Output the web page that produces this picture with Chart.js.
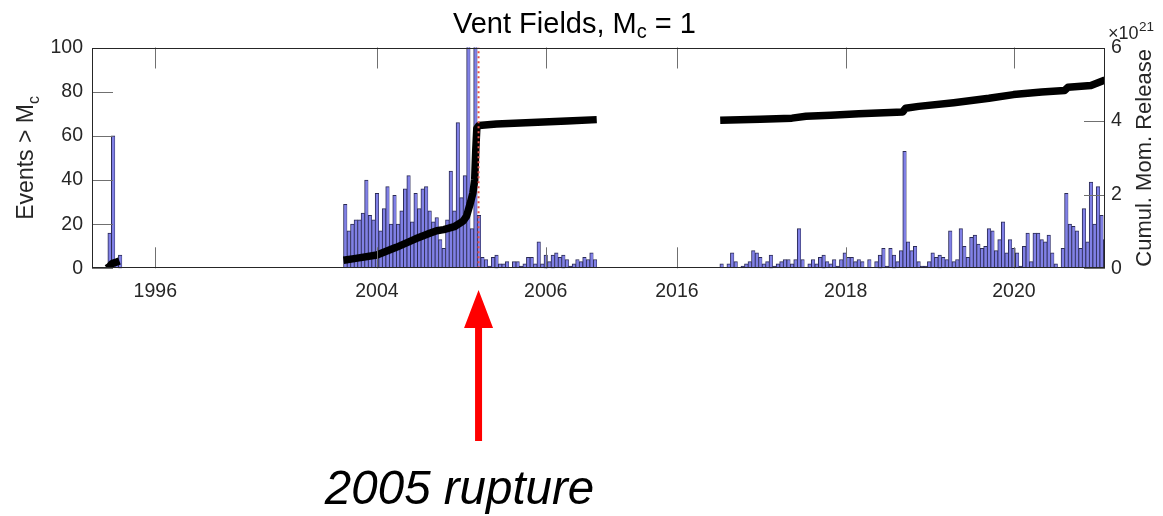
<!DOCTYPE html>
<html>
<head>
<meta charset="utf-8">
<style>
  html, body { margin: 0; padding: 0; background: #ffffff; }
  #wrap { width: 1163px; height: 516px; position: relative; }
</style>
<script src="https://cdn.jsdelivr.net/npm/chart.js@4.4.1/dist/chart.umd.min.js"></script>
</head>
<body>
<div id="wrap"><canvas id="c" width="1163" height="516"></canvas></div>
<script>
// ---------- data (x unit = half-month bin on the compressed time axis) ----------
const tickValues = [18, 81, 129, 166.3, 214.3, 262.1];
const tickLabels = ['1996', '2004', '2006', '2016', '2018', '2020'];

const countsAStart = 5;
const countsA = [16, 60, 2, 6];

const countsBStart = 72;
const countsB = [29, 17, 20, 22, 22, 25, 40, 24, 22, 34,
                 17, 27, 37, 20, 33, 20, 26, 36, 42, 21,
                 34, 27, 36, 37, 26, 21, 23, 13, 9, 22,
                 44, 26, 66, 32, 42, 115, 18, 110, 24,
                 5, 4, 1, 5, 6, 2, 2, 3, 0, 3,
                 3, 1, 2, 5, 5, 2, 12, 2, 6, 3,
                 6, 7, 5, 6, 4, 1, 2, 4, 3, 5,
                 4, 7, 4];

const countsCStart = 179;
const countsC = [2, 0, 2, 7, 3, 0, 1, 2, 3, 8, 7, 5, 2, 3, 6, 1, 2, 3, 4, 4, 2, 4,
                 18,
                 4, 0, 2, 4, 2, 5, 6, 3, 2, 4,
                 1, 4, 7, 5, 5, 3, 4,
                 3, 0, 4, 0, 3,
                 6, 9, 1, 9, 6, 3, 8,
                 53,
                 12, 8, 10, 3, 1, 1, 3, 7, 5, 6, 5, 4, 17, 3, 4, 18, 10,
                 5, 14, 15, 11, 9, 10, 18, 17, 8, 13, 21, 7, 13, 9, 7, 1, 10, 16, 3, 16, 16, 13, 12, 15, 7, 2, 0, 9,
                 34,
                 20, 19, 17, 9, 27, 12, 39, 20, 37, 24, 13];

// cumulative moment release (x10^21)
const momentBinsA = [4.2, 5.0, 5.6, 6.2, 7.0, 7.8];
const momentValsA = [0.0, 0.05, 0.12, 0.15, 0.17, 0.2];
const momentBinsB = [71.5, 75, 81, 86.5, 92, 96, 98, 100, 103, 105.5, 106.5, 107.5, 108.3, 108.8, 109.1, 109.4, 110, 115, 125, 135, 143.5];
const momentValsB = [0.22, 0.27, 0.36, 0.57, 0.80, 0.95, 1.02, 1.05, 1.13, 1.28, 1.42, 1.75, 2.05, 2.4, 3.2, 3.8, 3.88, 3.92, 3.96, 4.0, 4.04];
const momentBinsC = [178.6, 190, 199, 203, 210, 218, 230.5, 231.3, 235, 245, 255, 262, 270, 276.5, 277.5, 284, 288];
const momentValsC = [4.02, 4.05, 4.08, 4.13, 4.16, 4.20, 4.25, 4.35, 4.40, 4.50, 4.62, 4.72, 4.79, 4.83, 4.92, 4.97, 5.12];

const ruptureBin = 109.9;
const leftTicks = [0, 20, 40, 60, 80, 100];
const rightTicks = [0, 2, 4, 6];

// ---------- build ----------
const FONT = '"Liberation Sans", Arial, Helvetica, sans-serif';
Chart.defaults.font.family = FONT;

function toBars(start, arr) { return arr.map((v, i) => ({ x: start + i, y: v })); }
function toPts(bins, vals) { return bins.map((b, i) => ({ x: b, y: vals[i] })); }

const barData = [].concat(toBars(countsAStart, countsA), toBars(countsBStart, countsB), toBars(countsCStart, countsC));

const momentStyle = {
  type: 'line', yAxisID: 'y2', borderColor: '#000000', borderWidth: 7.5,
  pointRadius: 0, tension: 0, borderJoinStyle: 'round', borderCapStyle: 'butt', order: 2
};

function drawParts(ctx, parts, x, y, align) {
  let w = 0;
  parts.forEach(p => { ctx.font = (p.italic ? 'italic ' : '') + p.size + 'px ' + FONT; p.w = ctx.measureText(p.t).width; w += p.w; });
  let cx = align === 'center' ? x - w / 2 : (align === 'right' ? x - w : x);
  ctx.textAlign = 'left';
  ctx.textBaseline = 'alphabetic';
  parts.forEach(p => {
    ctx.font = (p.italic ? 'italic ' : '') + p.size + 'px ' + FONT;
    ctx.fillText(p.t, cx, y + (p.dy || 0));
    cx += p.w;
  });
}

const decor = {
  id: 'decor',
  afterDatasetsDraw(chart) {
    const { ctx, chartArea: a, scales } = chart;
    const L = 21;
    ctx.save();
    ctx.lineWidth = 1;
    ctx.strokeStyle = '#707070';
    ctx.beginPath();
    scales.x.ticks.forEach(t => {
      const x = Math.round(scales.x.getPixelForValue(t.value)) + 0.5;
      ctx.moveTo(x, a.top); ctx.lineTo(x, a.top + L);
      ctx.moveTo(x, a.bottom); ctx.lineTo(x, a.bottom - L);
    });
    scales.y.ticks.forEach(t => {
      const y = Math.round(scales.y.getPixelForValue(t.value)) + 0.5;
      ctx.moveTo(a.left, y); ctx.lineTo(a.left + L, y);
    });
    scales.y2.ticks.forEach(t => {
      const y = Math.round(scales.y2.getPixelForValue(t.value)) + 0.5;
      ctx.moveTo(a.right, y); ctx.lineTo(a.right - L, y);
    });
    ctx.stroke();
    ctx.strokeStyle = '#262626';
    const l = Math.round(a.left) + 0.5, r = Math.round(a.right) - 0.5;
    const t = Math.round(a.top) + 0.5, b = Math.round(a.bottom) - 0.5;
    ctx.strokeRect(l, t, r - l, b - t);
    ctx.restore();
  },
  afterDraw(chart) {
    const { ctx, chartArea: a, scales } = chart;
    ctx.save();
    ctx.fillStyle = '#000000';
    // title
    drawParts(ctx, [{ t: 'Vent Fields, M', size: 29 }, { t: 'c', size: 20, dy: 5 }, { t: ' = 1', size: 29 }],
      453, 33, 'left');
    // left axis title
    ctx.fillStyle = '#262626';
    ctx.save();
    ctx.translate(33, (a.top + a.bottom) / 2);
    ctx.rotate(-Math.PI / 2);
    drawParts(ctx, [{ t: 'Events > M', size: 23 }, { t: 'c', size: 16, dy: 6 }], 0, 0, 'center');
    ctx.restore();
    // right axis title
    ctx.save();
    ctx.translate(a.right + 46, (a.top + a.bottom) / 2);
    ctx.rotate(-Math.PI / 2);
    drawParts(ctx, [{ t: 'Cumul. Mom. Release', size: 22 }], 0, 0, 'center');
    ctx.restore();
    // exponent
    drawParts(ctx, [{ t: '\u00d710', size: 18 }], a.right + 3, 38.5, 'left');
    drawParts(ctx, [{ t: '21', size: 13.5 }], a.right + 34, 31, 'left');
    // arrow
    const ax = scales.x.getPixelForValue(ruptureBin);
    ctx.fillStyle = '#ff0000';
    ctx.beginPath();
    ctx.moveTo(ax, 290);
    ctx.lineTo(ax + 14.5, 328);
    ctx.lineTo(ax + 3.5, 328);
    ctx.lineTo(ax + 3.5, 441);
    ctx.lineTo(ax - 3.5, 441);
    ctx.lineTo(ax - 3.5, 328);
    ctx.lineTo(ax - 14.5, 328);
    ctx.closePath();
    ctx.fill();
    // annotation text
    ctx.fillStyle = '#000000';
    drawParts(ctx, [{ t: '2005 rupture', size: 47.5, italic: true }], ax - 19, 504, 'center');
    ctx.restore();
  }
};

new Chart(document.getElementById('c'), {
  type: 'bar',
  data: {
    datasets: [
      {
        type: 'line', yAxisID: 'y', data: [{ x: ruptureBin, y: 0 }, { x: ruptureBin, y: 100 }],
        borderColor: '#e8504a', borderWidth: 2, borderDash: [2, 3], pointRadius: 0, order: 1
      },
      Object.assign({ data: toPts(momentBinsA, momentValsA) }, momentStyle),
      Object.assign({ data: toPts(momentBinsB, momentValsB) }, momentStyle),
      Object.assign({ data: toPts(momentBinsC, momentValsC) }, momentStyle),
      {
        type: 'bar', yAxisID: 'y', data: barData,
        backgroundColor: 'rgb(128,128,230)', borderColor: '#2b2b55',
        borderWidth: { top: 1, left: 1, right: 0.6, bottom: 0 },
        borderSkipped: false, categoryPercentage: 1, barPercentage: 1, clip: 0, order: 3
      }
    ]
  },
  options: {
    responsive: false,
    animation: false,
    events: [],
    layout: { padding: { top: 47.5, left: 0, right: 0, bottom: 0 } },
    plugins: { legend: { display: false }, tooltip: { enabled: false }, title: { display: false } },
    scales: {
      x: {
        type: 'linear', min: 0, max: 288, offset: false,
        grid: { display: false, drawTicks: false, offset: false }, border: { display: false },
        ticks: {
          autoSkip: false, maxRotation: 0, minRotation: 0, padding: 12,
          font: { size: 19.5 }, color: '#262626',
          callback: (v, i) => tickLabels[i]
        },
        afterBuildTicks: s => { s.ticks = tickValues.map(v => ({ value: v })); },
        afterFit: s => { s.height = 516 - 268.3; }
      },
      y: {
        position: 'left', min: 0, max: 100,
        grid: { display: false, drawTicks: false }, border: { display: false },
        ticks: { padding: 9, font: { size: 19.5 }, color: '#262626' },
        afterBuildTicks: s => { s.ticks = leftTicks.map(v => ({ value: v })); },
        afterFit: s => { s.width = 92; }
      },
      y2: {
        position: 'right', min: 0, max: 6,
        grid: { display: false, drawTicks: false }, border: { display: false },
        ticks: { padding: 6, font: { size: 19.5 }, color: '#262626' },
        afterBuildTicks: s => { s.ticks = rightTicks.map(v => ({ value: v })); },
        afterFit: s => { s.width = 58; }
      }
    }
  },
  plugins: [decor]
});
</script>
</body>
</html>
